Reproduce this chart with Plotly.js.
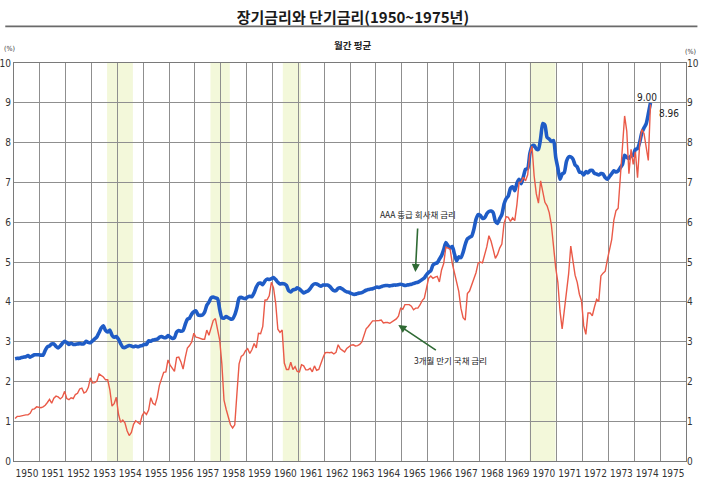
<!DOCTYPE html>
<html>
<head>
<meta charset="utf-8">
<script src="https://cdn.plot.ly/plotly-3.0.1.min.js"></script>
<style>
  html, body { margin: 0; padding: 0; background: #ffffff; }
  #chart { width: 703px; height: 487px; }
</style>
</head>
<body>
<div id="chart"></div>
<script>
// Monthly averages, January 1950 through August 1974 (percent).
const startYear = 1950;

// AAA-rated corporate bond yield
const aaaRate = [
  2.57, 2.58, 2.58, 2.60, 2.61, 2.62, 2.65, 2.61, 2.64, 2.67, 2.67, 2.67,
  2.66, 2.66, 2.78, 2.87, 2.89, 2.94, 2.94, 2.88, 2.84, 2.89, 2.96, 3.01,
  2.98, 2.93, 2.96, 2.93, 2.93, 2.94, 2.95, 2.94, 2.95, 3.01, 2.98, 2.97,
  3.02, 3.07, 3.12, 3.23, 3.34, 3.40, 3.28, 3.24, 3.29, 3.16, 3.11, 3.13,
  3.06, 2.95, 2.86, 2.85, 2.88, 2.90, 2.89, 2.87, 2.89, 2.87, 2.89, 2.90,
  2.93, 2.93, 3.02, 3.01, 3.04, 3.05, 3.06, 3.11, 3.13, 3.10, 3.10, 3.15,
  3.11, 3.08, 3.10, 3.24, 3.28, 3.26, 3.28, 3.43, 3.56, 3.59, 3.69, 3.75,
  3.77, 3.67, 3.66, 3.67, 3.74, 3.91, 3.99, 4.10, 4.12, 4.10, 4.08, 3.81,
  3.60, 3.59, 3.63, 3.60, 3.57, 3.57, 3.67, 3.85, 4.09, 4.11, 4.09, 4.08,
  4.12, 4.14, 4.13, 4.23, 4.37, 4.46, 4.47, 4.43, 4.52, 4.57, 4.56, 4.58,
  4.61, 4.56, 4.49, 4.45, 4.46, 4.45, 4.41, 4.28, 4.25, 4.30, 4.31, 4.35,
  4.32, 4.27, 4.22, 4.25, 4.27, 4.33, 4.41, 4.45, 4.45, 4.42, 4.39, 4.42,
  4.42, 4.42, 4.39, 4.33, 4.28, 4.28, 4.34, 4.35, 4.32, 4.28, 4.25, 4.24,
  4.21, 4.19, 4.19, 4.21, 4.22, 4.23, 4.26, 4.29, 4.31, 4.32, 4.33, 4.35,
  4.37, 4.36, 4.38, 4.40, 4.41, 4.41, 4.40, 4.41, 4.42, 4.42, 4.43, 4.44,
  4.43, 4.41, 4.42, 4.43, 4.44, 4.46, 4.48, 4.49, 4.52, 4.56, 4.60, 4.68,
  4.74, 4.78, 4.92, 4.96, 4.98, 5.07, 5.16, 5.31, 5.49, 5.41, 5.35, 5.39,
  5.20, 5.03, 5.13, 5.11, 5.24, 5.44, 5.58, 5.62, 5.65, 5.82, 6.07, 6.19,
  6.17, 6.10, 6.11, 6.21, 6.27, 6.28, 6.24, 6.02, 5.97, 6.09, 6.19, 6.45,
  6.59, 6.66, 6.85, 6.89, 6.79, 6.98, 7.08, 6.97, 7.14, 7.33, 7.35, 7.72,
  7.91, 7.93, 7.84, 7.83, 8.11, 8.48, 8.44, 8.13, 8.09, 8.03, 8.05, 7.64,
  7.36, 7.08, 7.21, 7.25, 7.53, 7.64, 7.64, 7.59, 7.44, 7.39, 7.26, 7.25,
  7.19, 7.27, 7.24, 7.30, 7.30, 7.23, 7.21, 7.19, 7.22, 7.21, 7.12, 7.08,
  7.15, 7.22, 7.29, 7.26, 7.29, 7.37, 7.45, 7.68, 7.63, 7.60, 7.67, 7.68,
  7.83, 7.85, 8.01, 8.25, 8.37, 8.47, 8.72, 9.00
];

// 3-month Treasury bill rate
const tbillRate = [
  1.07, 1.12, 1.12, 1.14, 1.16, 1.16, 1.16, 1.20, 1.30, 1.31, 1.36, 1.34,
  1.34, 1.36, 1.40, 1.47, 1.55, 1.45, 1.58, 1.63, 1.61, 1.56, 1.61, 1.75,
  1.57, 1.54, 1.59, 1.57, 1.67, 1.70, 1.81, 1.83, 1.71, 1.74, 1.85, 2.09,
  1.96, 1.97, 2.01, 2.19, 2.16, 2.11, 2.04, 2.04, 1.79, 1.38, 1.44, 1.60,
  1.18, 0.97, 1.03, 0.96, 0.76, 0.64, 0.72, 0.92, 1.01, 0.98, 0.93, 1.14,
  1.23, 1.17, 1.28, 1.59, 1.45, 1.41, 1.60, 1.90, 2.07, 2.23, 2.24, 2.54,
  2.41, 2.32, 2.25, 2.60, 2.61, 2.49, 2.31, 2.60, 2.84, 2.90, 2.99, 3.21,
  3.11, 3.10, 3.08, 3.06, 3.06, 3.29, 3.16, 3.37, 3.53, 3.58, 3.29, 3.04,
  2.44, 1.53, 1.30, 1.13, 0.91, 0.83, 0.91, 1.69, 2.44, 2.63, 2.67, 2.77,
  2.82, 2.70, 2.80, 2.95, 2.84, 3.21, 3.20, 3.38, 4.04, 4.05, 4.15, 4.49,
  4.35, 3.96, 3.31, 3.23, 3.29, 2.46, 2.30, 2.30, 2.48, 2.30, 2.37, 2.25,
  2.24, 2.42, 2.39, 2.29, 2.29, 2.33, 2.24, 2.39, 2.28, 2.30, 2.48, 2.60,
  2.72, 2.73, 2.72, 2.73, 2.69, 2.73, 2.92, 2.82, 2.78, 2.74, 2.83, 2.87,
  2.91, 2.92, 2.89, 2.90, 2.93, 2.99, 3.18, 3.32, 3.38, 3.45, 3.52, 3.52,
  3.52, 3.53, 3.54, 3.47, 3.48, 3.48, 3.46, 3.50, 3.53, 3.57, 3.64, 3.84,
  3.81, 3.93, 3.93, 3.93, 3.89, 3.80, 3.84, 3.84, 3.92, 4.03, 4.09, 4.38,
  4.59, 4.65, 4.59, 4.62, 4.64, 4.50, 4.80, 4.96, 5.37, 5.35, 5.32, 4.96,
  4.72, 4.56, 4.26, 3.84, 3.60, 3.54, 4.21, 4.27, 4.42, 4.56, 4.73, 4.97,
  5.00, 4.98, 5.17, 5.38, 5.66, 5.52, 5.31, 5.09, 5.19, 5.35, 5.45, 5.96,
  6.14, 6.12, 6.02, 6.11, 6.04, 6.44, 7.00, 7.01, 7.13, 7.04, 7.19, 7.72,
  7.91, 7.16, 6.71, 6.48, 7.04, 6.74, 6.50, 6.41, 6.24, 5.93, 5.29, 4.86,
  4.49, 3.77, 3.32, 3.78, 4.14, 4.70, 5.40, 5.08, 4.67, 4.49, 4.19, 4.02,
  3.40, 3.18, 3.72, 3.72, 3.65, 3.87, 4.06, 4.01, 4.65, 4.72, 4.77, 5.06,
  5.31, 5.56, 6.05, 6.29, 6.35, 7.19, 8.01, 8.67, 8.29, 7.22, 7.83, 7.45,
  7.77, 7.12, 7.96, 8.33, 8.23, 7.90, 7.55, 8.96
];

// Recession periods shaded on the chart (decimal years)
const recessionStart = [1953.60, 1957.60, 1960.40, 1969.95];
const recessionEnd   = [1954.60, 1958.35, 1961.10, 1970.95];

// Year labels along the bottom, one per yearly column
const yearLabels = [];
for (let y = 1950; y <= 1975; y++) yearLabels.push(y);

const yTicks = [0, 1, 2, 3, 4, 5, 6, 7, 8, 9, 10];

// Place each monthly value at the middle of its month
const monthX = tbillRate.map((_, i) => startYear + (i + 0.5) / 12);

const numFont = 'Liberation Sans Narrow, DejaVu Sans Condensed, Arial Narrow, sans-serif';
const krFont = 'Noto Sans CJK KR, Noto Sans, sans-serif';
const gridColor = '#8f8f8f';

const traces = [
  {
    x: monthX, y: aaaRate, type: 'scatter', mode: 'lines',
    line: { color: '#1f5cc6', width: 3.6, shape: 'spline', smoothing: 0.6 },
    hoverinfo: 'x+y', name: 'AAA'
  },
  {
    x: monthX, y: tbillRate, type: 'scatter', mode: 'lines',
    line: { color: '#ea5a48', width: 1.4 },
    hoverinfo: 'x+y', name: 'T-bill'
  }
];

const shapes = recessionStart.map((s, i) => ({
  type: 'rect', xref: 'x', yref: 'paper', x0: s, x1: recessionEnd[i], y0: 0, y1: 1,
  fillcolor: 'rgba(234, 242, 188, 0.55)', line: { width: 0 }, layer: 'below'
}));

// Rule under the main title
shapes.push({
  type: 'line', xref: 'paper', yref: 'paper', x0: -0.013, x1: 1.017, y0: 1.092, y1: 1.092,
  line: { color: '#6a6a6a', width: 1.6 }
});

const lastAaa = aaaRate[aaaRate.length - 1];
const lastTbill = tbillRate[tbillRate.length - 1];
const lastX = monthX[monthX.length - 1];

const annotations = [
  { text: '월간 평균', xref: 'paper', yref: 'paper', x: 0.504, y: 1.044,
    xanchor: 'center', yanchor: 'middle', showarrow: false,
    font: { family: krFont, size: 9.5, color: '#222', weight: 'bold' } },
  { text: '(%)', xref: 'paper', yref: 'paper', x: -0.006, y: 1.034,
    xanchor: 'center', yanchor: 'middle', showarrow: false,
    font: { family: numFont, size: 7, color: '#333' } },
  { text: '(%)', xref: 'paper', yref: 'paper', x: 1.006, y: 1.027,
    xanchor: 'center', yanchor: 'middle', showarrow: false,
    font: { family: numFont, size: 7, color: '#333' } },
  { text: lastAaa.toFixed(2), x: lastX, y: lastAaa, xanchor: 'center', yanchor: 'bottom',
    xshift: -3, yshift: -2, showarrow: false,
    font: { family: numFont, size: 10, color: '#222' } },
  { text: lastTbill.toFixed(2), x: lastX, y: lastTbill, xanchor: 'left', yanchor: 'middle',
    xshift: 7, yshift: -9, showarrow: false,
    font: { family: numFont, size: 10, color: '#222' } },
  { text: 'AAA 등급 회사채 금리', x: 1965.53, y: 4.75, ax: 3, ay: -58,
    showarrow: true, arrowhead: 2, arrowsize: 1, arrowwidth: 1.6, arrowcolor: '#2f6a34',
    startstandoff: 7, font: { family: krFont, size: 8.5, color: '#222' } },
  { text: '3개월 만기 국채 금리', x: 1964.87, y: 3.42, ax: 52, ay: 35,
    showarrow: true, arrowhead: 2, arrowsize: 1, arrowwidth: 1.6, arrowcolor: '#2f6a34',
    startstandoff: 4, font: { family: krFont, size: 8.5, color: '#222' } }
];

const layout = {
  width: 703, height: 487,
  margin: { l: 14, r: 17, t: 63, b: 26, pad: 0 },
  paper_bgcolor: '#ffffff', plot_bgcolor: '#ffffff',
  showlegend: false,
  title: {
    text: '장기금리와 단기금리(1950~1975년)',
    x: 0.502, xanchor: 'center', y: 0.963, yanchor: 'middle', yref: 'container',
    font: { family: krFont, size: 15, color: '#1a1a1a', weight: 'bold' }
  },
  xaxis: {
    range: [1950, 1976], tickmode: 'array',
    tickvals: yearLabels.map(y => y + 0.5), ticktext: yearLabels.map(String),
    showgrid: false, zeroline: false, ticks: '', ticklabelstandoff: 3,
    showline: true, mirror: true, linecolor: '#7a7a7a', linewidth: 1,
    tickfont: { family: numFont, size: 10, color: '#333' }
  },
  xaxis2: {
    overlaying: 'x', anchor: 'y', range: [1950, 1976],
    tickmode: 'linear', tick0: 1950, dtick: 1,
    showgrid: true, gridcolor: gridColor, gridwidth: 1,
    showticklabels: false, ticks: '', zeroline: false
  },
  yaxis: {
    range: [0, 10], tickmode: 'array', tickvals: yTicks,
    showgrid: true, gridcolor: gridColor, gridwidth: 1, zeroline: false,
    ticks: '', showline: true, mirror: true, linecolor: '#7a7a7a', linewidth: 1,
    tickfont: { family: numFont, size: 10, color: '#333' }
  },
  yaxis2: {
    overlaying: 'y', side: 'right', range: [0, 10], tickmode: 'array', tickvals: yTicks,
    showgrid: false, zeroline: false, ticks: '',
    tickfont: { family: numFont, size: 10, color: '#333' }
  },
  shapes: shapes,
  annotations: annotations
};

// Invisible trace keeps the right-hand axis active
traces.push({ x: [1950], y: [0], xaxis: 'x', yaxis: 'y2', mode: 'markers',
  marker: { opacity: 0 }, hoverinfo: 'skip' });
// Invisible trace keeps the yearly grid axis active
traces.push({ x: [1950], y: [0], xaxis: 'x2', yaxis: 'y', mode: 'markers',
  marker: { opacity: 0 }, hoverinfo: 'skip' });

Plotly.newPlot('chart', traces, layout, { displayModeBar: false, staticPlot: true });
</script>
</body>
</html>
